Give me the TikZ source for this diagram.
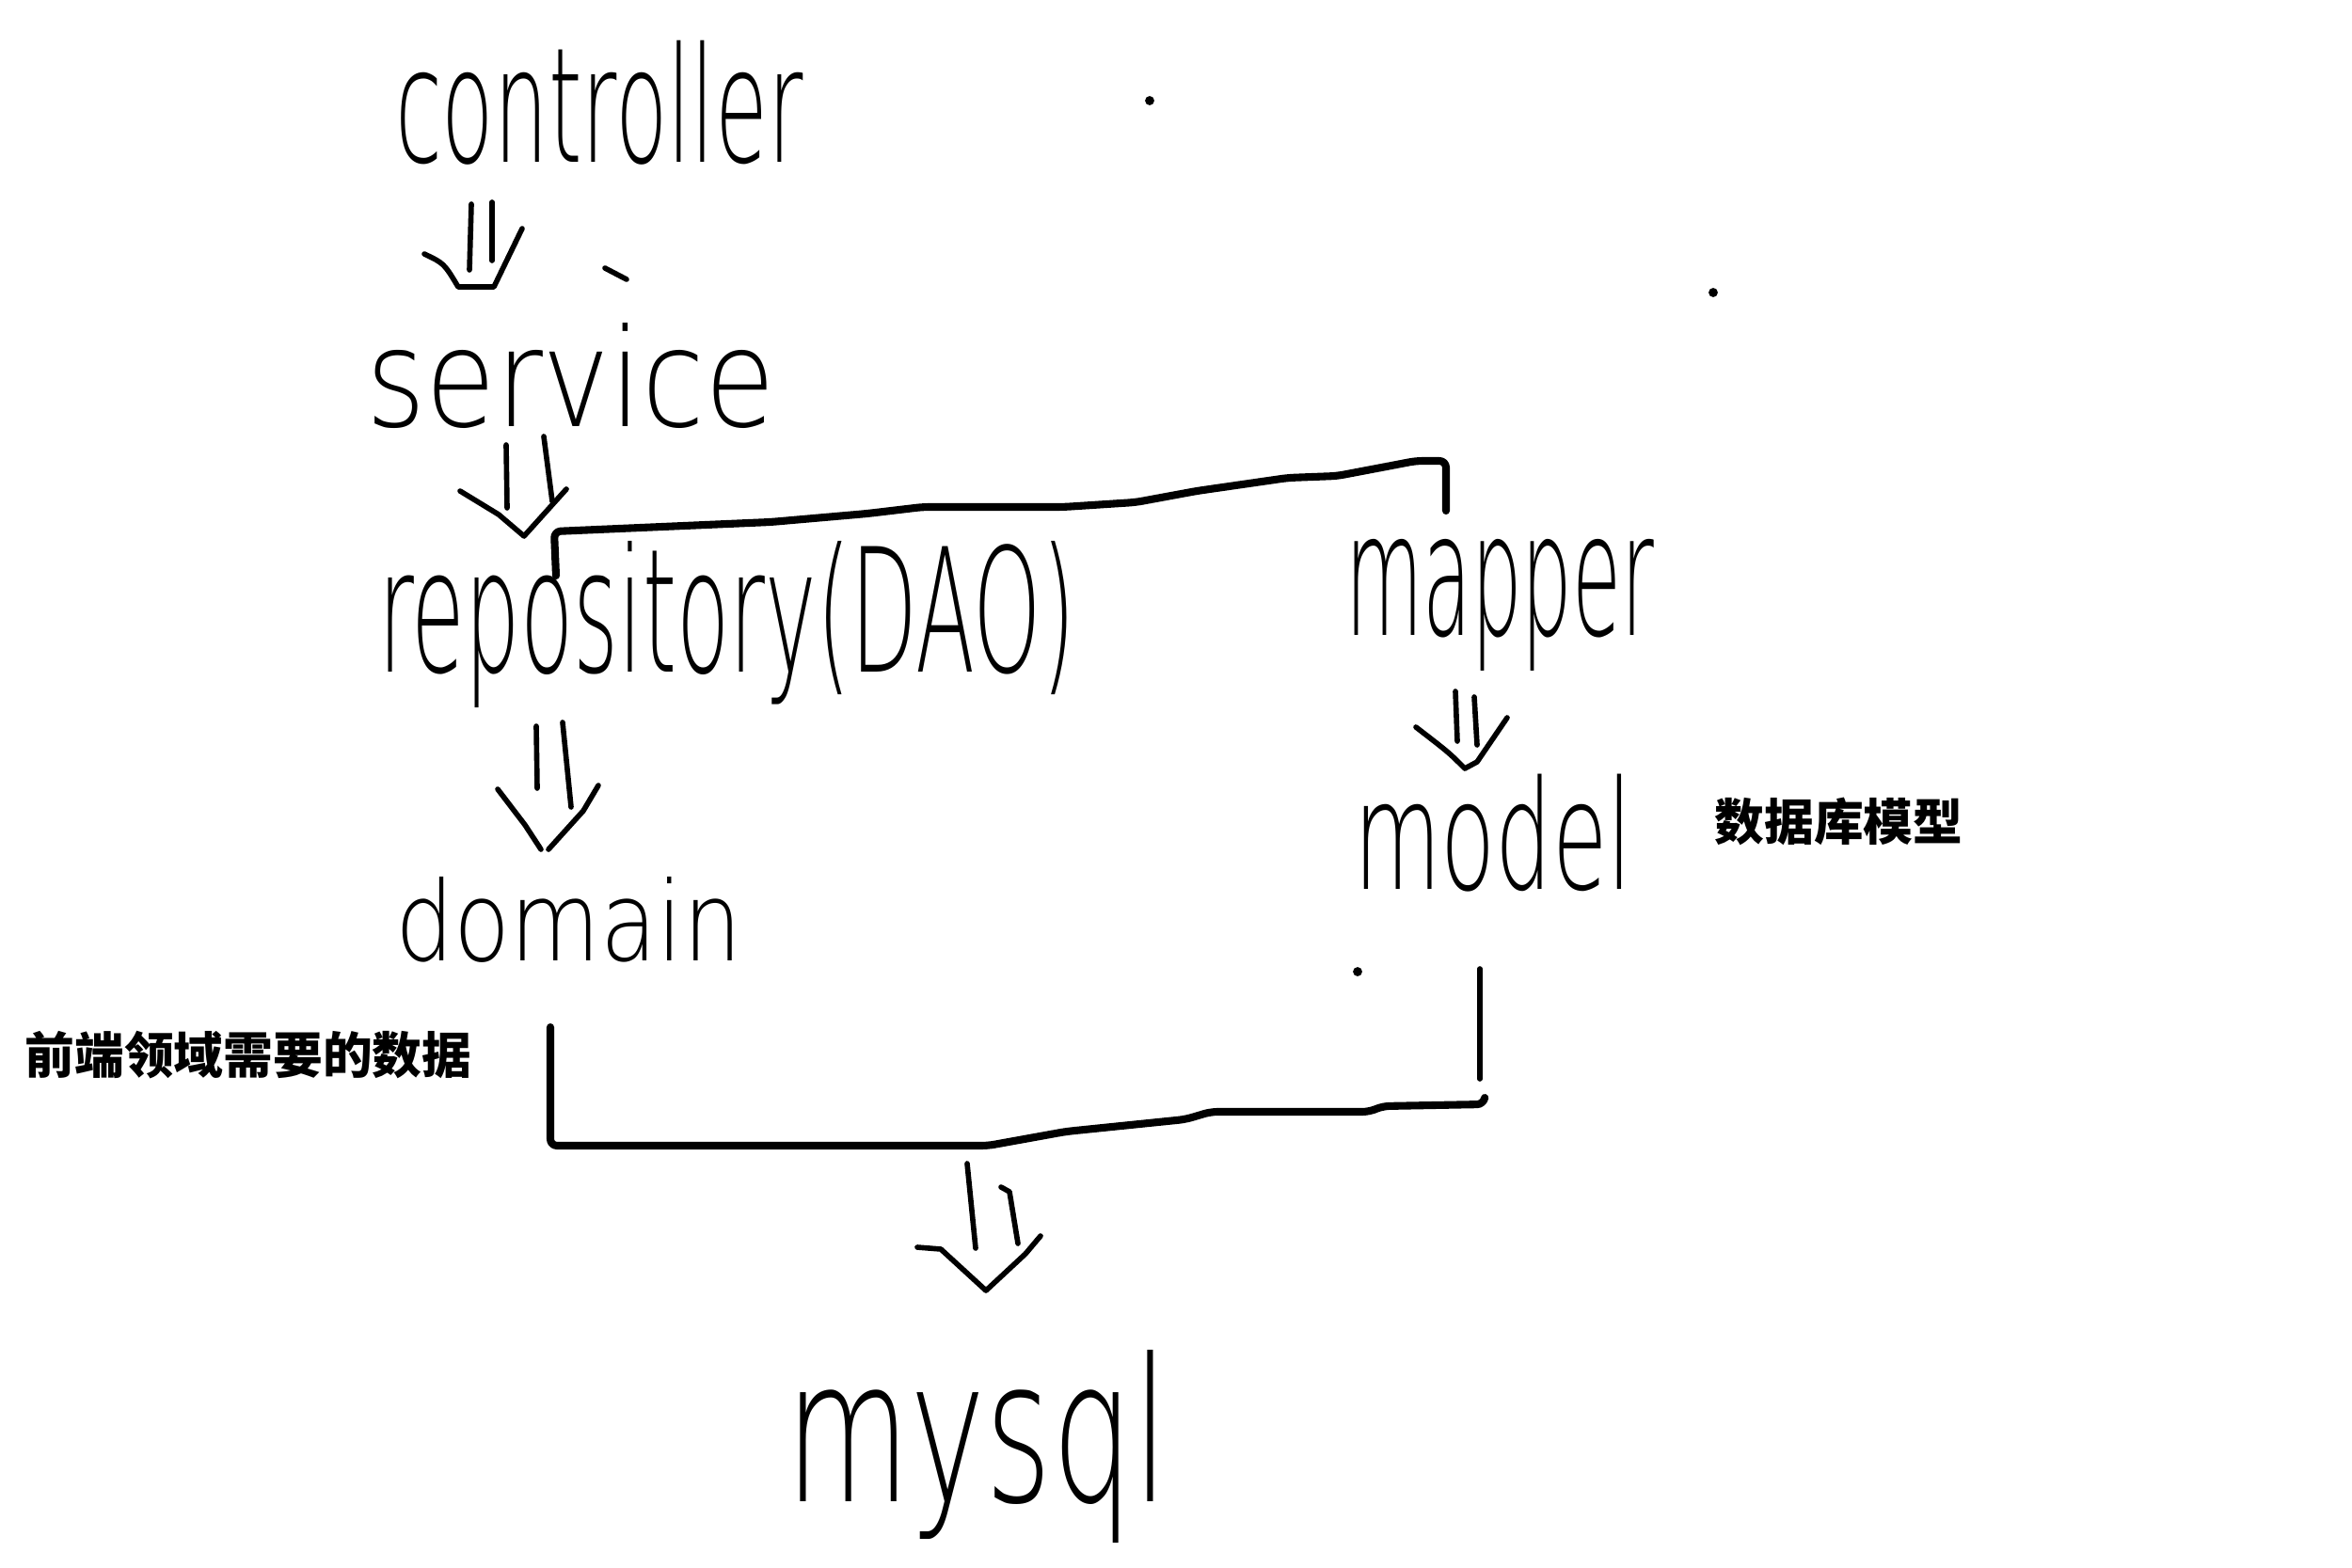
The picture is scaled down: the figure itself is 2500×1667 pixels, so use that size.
\documentclass[tikz,border=0pt]{standalone}
\usepackage{fontspec}
\usepackage{graphicx}
\newfontfamily\hand{DejaVu Sans ExtraLight}
\newfontfamily\cjk{Noto Sans CJK SC}
\tikzset{
  pen/.style={line width=1.6pt, line cap=round, line join=round},
  thickpen/.style={line width=2.3pt, line cap=round, line join=round},
  word/.style={inner sep=0pt, outer sep=0pt, anchor=north west},
  note/.style={inner sep=0pt, font=\cjk\bfseries\fontsize{15pt}{18pt}\selectfont},
  dot/.style={fill=black, circle, inner sep=0pt, minimum size=2.8pt}
}
\newcommand{\hw}[3]{\resizebox*{#1}{#2}{\hand #3}}
\begin{document}
\begin{tikzpicture}[x=0.01cm,y=-0.01cm]
\fill[white] (0,0) rectangle (2500,1667);
\useasboundingbox (0,0) rectangle (2500,1667);

% words
\node[word] (ctrl) at (420,43) {\hw{4.33cm}{1.32cm}{controller}};
\node[word] (serv) at (389,343) {\hw{4.35cm}{1.12cm}{service}};
\node[word] (repo) at (402,575) {\hw{7.41cm}{1.77cm}{repository(DAO)}};
\node[word] (mapp) at (1430,573) {\hw{3.28cm}{1.40cm}{mapper}};
\node[word] (modl) at (1439,823) {\hw{2.96cm}{1.25cm}{model}};
\node[word] (domn) at (420,932) {\hw{3.68cm}{0.91cm}{domain}};
\node[word] (mysq) at (835,1435) {\hw{4.07cm}{2.05cm}{mysql}};

% notes
\node[note, anchor=west] (n1) at (26,1122) {前端领域需要的数据};
\node[note, anchor=west] (n2) at (1822,873) {数据库模型};

% arrow controller -> service
\draw[pen] (451,270) .. controls (472,280) .. (487,305) -- (525,305) -- (555,243);
\draw[pen] (501,217) -- (499,287);
\draw[pen] (523,215) -- (523,277);

% arrow service -> repository
\draw[pen] (489,522) -- (530,547) -- (557,570) -- (602,520);
\draw[pen] (538,473) -- (539,540);
\draw[pen] (578,464) -- (587,533);

% arrow repository -> domain
\draw[pen] (529,839) -- (558,877) -- (575,903);
\draw[pen] (583,903) -- (620,862) -- (636,835);
\draw[pen] (570,772) -- (571,838);
\draw[pen] (598,768) -- (607,858);

% arrow mapper -> model
\draw[pen] (1505,773) .. controls (1540,800) .. (1557,817) -- (1570,810) -- (1602,763);
\draw[pen] (1547,735) -- (1549,788);
\draw[pen] (1567,741) -- (1570,792);

% arrow -> mysql
\draw[pen] (975,1326) -- (1000,1328) -- (1048,1372) -- (1090,1333) -- (1106,1314);
\draw[pen] (1028,1237) -- (1037,1327);
\draw[pen] (1064,1262) -- (1073,1267) -- (1082,1322);

% top bracket repository -- mapper
\coordinate (tb1) at (591,612);
\coordinate (tb2) at (1537,543);
\draw[thickpen, rounded corners=2pt] (tb1) -- (589,565) -- (819,555) -- (922,546) -- (981,539) -- (1130,539)
  -- (1207,534) -- (1272,522) -- (1369,508) -- (1421,506) -- (1479,495) -- (1505,490)
  -- (1537,490) -- (tb2);

% bottom bracket domain/model -> mysql
\coordinate (bb1) at (585,1092);
\coordinate (bb2) at (1578,1168);
\draw[thickpen, rounded corners=2pt] (bb1) -- (585,1218) -- (1050,1218) -- (1133,1203) -- (1260,1190)
  -- (1287,1182) -- (1455,1182) -- (1470,1176) -- (1577,1174) -- (bb2);
\coordinate (rv1) at (1573,1030);
\coordinate (rv2) at (1573,1147);
\draw[pen] (rv1) -- (rv2);

% stray marks
\draw[pen] (643,285) -- (666,297);
\node[dot] (d1) at (1222,107) {};
\node[dot] (d2) at (1821,311) {};
\node[dot] (d3) at (1443,1033) {};
\end{tikzpicture}
\end{document}
